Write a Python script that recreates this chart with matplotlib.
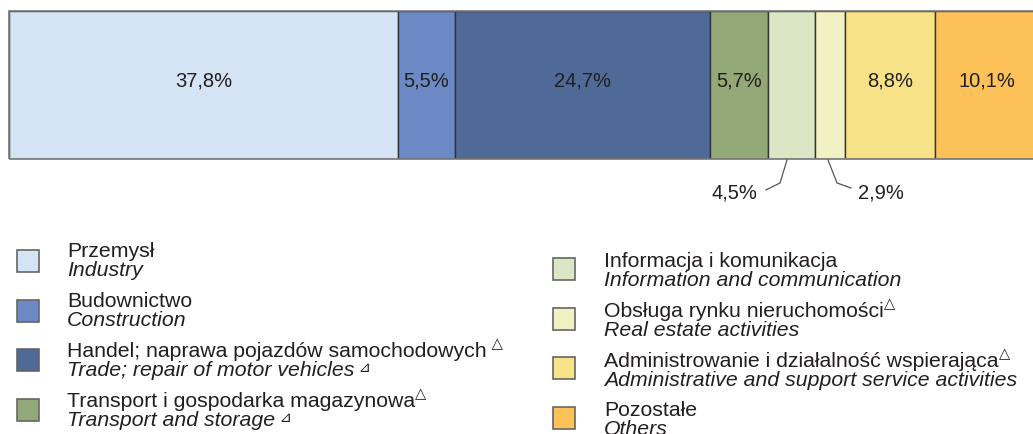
import matplotlib
matplotlib.use("Agg")
import matplotlib.pyplot as plt
from matplotlib.patches import Rectangle

plt.rcParams['font.family'] = ['Liberation Sans', 'DejaVu Sans']

# dane
shares = [37.8, 5.5, 24.7, 5.7, 4.5, 2.9, 8.8, 10.1]
labels_pl = ['Przemysł', 'Budownictwo', 'Handel; naprawa pojazdów samochodowych',
             'Transport i gospodarka magazynowa', 'Informacja i komunikacja',
             'Obsługa rynku nieruchomości', 'Administrowanie i działalność wspierająca',
             'Pozostałe']
labels_en = ['Industry', 'Construction', 'Trade; repair of motor vehicles',
             'Transport and storage', 'Information and communication',
             'Real estate activities', 'Administrative and support service activities',
             'Others']
mark_pl = [None, None, ' △', '△', None, '△', '△', None]
mark_en = [None, None, ' ⊿', ' ⊿', None, None, None, None]
colors = ['#d4e4f4', '#6a89c5', '#506a97', '#93a877', '#dae6c4', '#f2f1c3', '#f8e287', '#fdc15a']
inside = [True, True, True, True, False, False, True, True]

W, H = 1033, 434
fig = plt.figure(figsize=(W / 100, H / 100), dpi=100)

def fx(x):
    return x / W

def fy(y):
    return 1 - y / H

# pasek
x0 = 8.5
scale = 10.31
ax = fig.add_axes([fx(x0), fy(159), fx(W - x0), 148 / H])
left = 0
for i, v in enumerate(shares):
    ax.barh(0, v, left=left, height=1, color=colors[i], edgecolor='#333333', linewidth=1)
    if inside[i]:
        ax.text(left + v / 2, 0.03, f'{v:.1f}'.replace('.', ',') + '%', ha='center', va='center',
                fontsize=14.5, color='#231f20')
    left += v
ax.set_xlim(0, (W - x0) / scale)
ax.set_ylim(-0.5, 0.5)
ax.axis('off')
ax.add_patch(Rectangle((0, -0.5), 200, 1, fill=False, edgecolor='#777777', linewidth=1.2, clip_on=False))

# podpisy na zewnątrz
cum = [sum(shares[:i]) for i in range(len(shares))]
c45 = cum[4] + shares[4] / 2
ax.plot([c45 - 0.44, c45 - 1.12, c45 - 2.48], [-0.507, -0.662, -0.709], color='#555555', lw=0.9, clip_on=False)
ax.text(c45 - 5.5, -0.73, '4,5%', ha='center', va='center', fontsize=14.5, color='#231f20')
c29 = cum[5] + shares[5] / 2
ax.plot([c29 - 0.16, c29 + 0.71, c29 + 2.07], [-0.507, -0.662, -0.696], color='#555555', lw=0.9, clip_on=False)
ax.text(c29 + 5.0, -0.73, '2,9%', ha='center', va='center', fontsize=14.5, color='#231f20')

# legenda
renderer = fig.canvas.get_renderer()
cols = [(17, 67, 250, 257), (553, 604, 258, 267)]
for i in range(len(shares)):
    sx, tx, sq_top, base = cols[i // 4]
    k = i % 4
    top = sq_top + k * 49.5
    b1 = base + k * 50 - (1 if i == 7 else 0)
    fig.patches.append(Rectangle((fx(sx), fy(top + 22)), 22 / W, 22 / H, transform=fig.transFigure,
                                 facecolor=colors[i], edgecolor='#666666', linewidth=1.2))
    t1 = fig.text(fx(tx), fy(b1), labels_pl[i], fontsize=15.3, color='#231f20', va='baseline')
    t2 = fig.text(fx(tx), fy(b1 + 19), labels_en[i], fontsize=15.3, style='italic', color='#231f20', va='baseline')
    if mark_pl[i]:
        bb = t1.get_window_extent(renderer)
        fig.text(bb.x1 / W, fy(b1 - 9), mark_pl[i], fontsize=10.5, color='#231f20',
                 family=['DejaVu Sans'], va='baseline')
    if mark_en[i]:
        bb = t2.get_window_extent(renderer)
        fig.text(bb.x1 / W, fy(b1 + 19 - 4), mark_en[i], fontsize=10.5, color='#231f20',
                 family=['DejaVu Sans'], va='baseline')

fig.savefig('out.png', dpi=100)
